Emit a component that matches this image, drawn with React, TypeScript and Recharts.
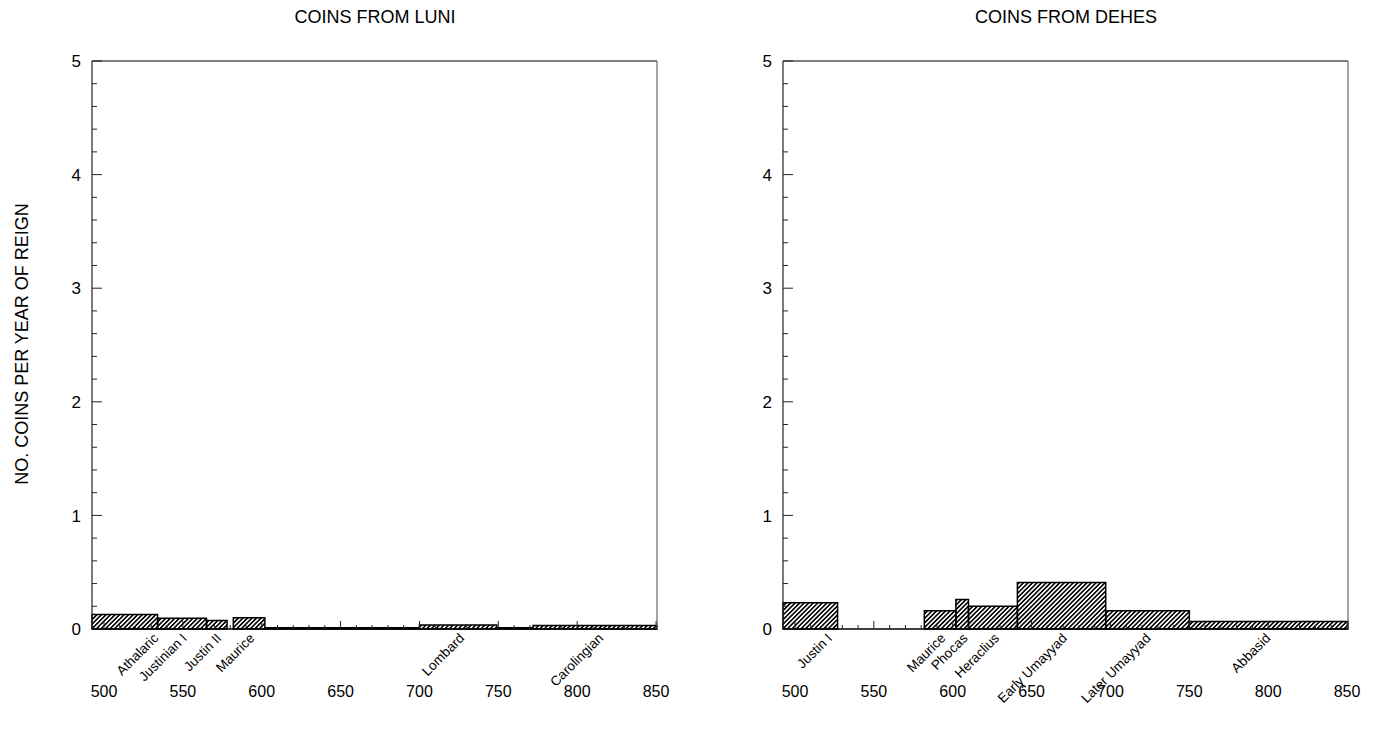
import React from "react";
import { ComposedChart, XAxis, YAxis, ReferenceArea, Line } from "recharts";

// reign blocks (start year, end year, coins per year)
const luniStart = [492.4, 534, 565, 582, 602, 700, 749, 772];
const luniEnd = [534, 565, 578, 602, 700, 749, 772, 850.6];
const luniValue = [0.127, 0.094, 0.074, 0.1, 0.01, 0.035, 0.01, 0.03];
const luniLabelYear = [535, 553, 575, 596, 729, 817];
const luniLabelName = ["Athalaric", "Justinian I", "Justin II", "Maurice", "Lombard", "Carolingian"];

const dehesStart = [492.4, 582, 602, 610, 641, 697, 750];
const dehesEnd = [527, 602, 610, 641, 697, 750, 850.6];
const dehesValue = [0.23, 0.16, 0.26, 0.2, 0.41, 0.16, 0.065];
const dehesLabelYear = [524, 596, 610, 630, 673, 726, 802];
const dehesLabelName = ["Justin I", "Maurice", "Phocas", "Heraclius", "Early Umayyad", "Later Umayyad", "Abbasid"];

const yearTicks = [500, 550, 600, 650, 700, 750, 800, 850];
const minorYearTicks = [
  500, 510, 520, 530, 540, 550, 560, 570, 580, 590, 600, 610, 620, 630, 640, 650, 660, 670,
  680, 690, 700, 710, 720, 730, 740, 750, 760, 770, 780, 790, 800, 810, 820, 830, 840, 850,
];
const valueTicks = [
  0, 0.2, 0.4, 0.6, 0.8, 1, 1.2, 1.4, 1.6, 1.8, 2, 2.2, 2.4, 2.6, 2.8, 3, 3.2, 3.4, 3.6, 3.8,
  4, 4.2, 4.4, 4.6, 4.8, 5,
];

const X_MIN = 492.4;
const X_MAX = 850.6;
const FONT = "'Liberation Sans', Arial, sans-serif";

const isMajor = (v: number) => Math.abs(v - Math.round(v)) < 1e-6;

const YTick = ({ x, y, payload }: any) => {
  const v = payload.value;
  const major = isMajor(v);
  return (
    <g>
      <line x1={x} x2={x + (major ? 10 : 5)} y1={y} y2={y} stroke="#222" strokeWidth={1} />
      {major && (
        <text x={x - 11} y={y} dy="0.36em" textAnchor="end" fontSize={17} fill="#000" fontFamily={FONT}>
          {Math.round(v)}
        </text>
      )}
    </g>
  );
};

const MinorXTick = ({ x, y, payload }: any) => {
  const big = payload.value % 50 === 0;
  return <line x1={x} x2={x} y1={y} y2={y - (big ? 8 : 4)} stroke="#222" strokeWidth={1} />;
};

const CoinChart = ({
  title,
  starts,
  ends,
  values,
  labelYears,
  labelNames,
  left,
  width,
  rightMargin,
}: {
  title: string;
  starts: number[];
  ends: number[];
  values: number[];
  labelYears: number[];
  labelNames: string[];
  left: number;
  width: number;
  rightMargin: number;
}) => {
  const rows = starts.map((s, i) => ({ year: (s + ends[i]) / 2, value: values[i] }));

  const NameTick = ({ x, y, index }: any) => {
    const ty = y + 10;
    return (
      <text
        x={x}
        y={ty}
        transform={`rotate(-45 ${x} ${ty})`}
        textAnchor="end"
        fontSize={13.5}
        fill="#000"
        fontFamily={FONT}
      >
        {labelNames[index]}
      </text>
    );
  };

  const xCommon = {
    type: "number" as const,
    dataKey: "year",
    domain: [X_MIN, X_MAX],
    allowDataOverflow: true,
  };

  return (
    <div style={{ position: "absolute", left, top: 0, width, height: 736 }}>
      <div
        style={{
          position: "absolute",
          left: 92,
          top: 7,
          width: width - 92 - rightMargin,
          textAlign: "center",
          fontFamily: FONT,
          fontSize: 18,
          color: "#000",
        }}
      >
        {title}
      </div>
      <ComposedChart
        width={width}
        height={736}
        data={rows}
        margin={{ top: 60, right: rightMargin, left: 0, bottom: 0 }}
      >
        <XAxis
          {...xCommon}
          xAxisId="top"
          orientation="top"
          height={1}
          tick={false}
          tickLine={false}
          axisLine={{ stroke: "#555", strokeWidth: 1.5 }}
        />
        <XAxis
          {...xCommon}
          xAxisId="minor"
          ticks={minorYearTicks}
          interval={0}
          mirror
          height={1}
          tickSize={0}
          tickMargin={0}
          tickLine={false}
          tick={MinorXTick}
          axisLine={{ stroke: "#000", strokeWidth: 1.5 }}
        />
        <XAxis
          {...xCommon}
          xAxisId="names"
          ticks={labelYears}
          interval={0}
          height={49}
          tickSize={0}
          tickMargin={0}
          tickLine={false}
          axisLine={false}
          tick={NameTick}
        />
        <XAxis
          {...xCommon}
          xAxisId="years"
          ticks={yearTicks}
          interval={0}
          height={58}
          tickSize={0}
          tickMargin={8}
          tickLine={false}
          axisLine={false}
          tick={{ fontSize: 16, fill: "#000", fontFamily: FONT }}
        />
        <YAxis
          yAxisId="y"
          type="number"
          domain={[0, 5]}
          allowDataOverflow
          ticks={valueTicks}
          interval={0}
          width={92}
          tickSize={0}
          tickMargin={0}
          tickLine={false}
          tick={YTick}
          axisLine={{ stroke: "#222", strokeWidth: 1.2 }}
        />
        <YAxis
          yAxisId="right"
          orientation="right"
          type="number"
          domain={[0, 5]}
          allowDataOverflow
          width={1}
          tick={false}
          tickLine={false}
          axisLine={{ stroke: "#666", strokeWidth: 1.2 }}
        />
        {starts.map((s, i) => (
          <ReferenceArea
            key={i}
            xAxisId="years"
            yAxisId="y"
            x1={s}
            x2={ends[i]}
            y1={0}
            y2={values[i]}
            ifOverflow="visible"
            fill="url(#hatch)"
            fillOpacity={1}
            stroke="#000"
            strokeWidth={1.5}
          />
        ))}
        <Line
          xAxisId="years"
          yAxisId="y"
          dataKey="value"
          stroke="none"
          dot={false}
          activeDot={false}
          isAnimationActive={false}
        />
        <Line xAxisId="top" yAxisId="right" dataKey="value" stroke="none" dot={false} activeDot={false} isAnimationActive={false} />
        <Line xAxisId="minor" yAxisId="y" dataKey="value" stroke="none" dot={false} activeDot={false} isAnimationActive={false} />
        <Line xAxisId="names" yAxisId="y" dataKey="value" stroke="none" dot={false} activeDot={false} isAnimationActive={false} />
      </ComposedChart>
    </div>
  );
};

export default function App() {
  return (
    <div style={{ position: "absolute", left: 0, top: 0, width: 1375, height: 736, background: "#fff" }}>
      <svg width={0} height={0} style={{ position: "absolute" }}>
        <defs>
          <pattern id="hatch" width={3.2} height={3.2} patternUnits="userSpaceOnUse" patternTransform="rotate(45)">
            <rect x={0} y={0} width={1.6} height={3.2} fill="#000" />
          </pattern>
        </defs>
      </svg>
      <div
        style={{
          position: "absolute",
          left: 22,
          top: 344,
          transform: "translate(-50%, -50%) rotate(-90deg)",
          whiteSpace: "nowrap",
          fontFamily: FONT,
          fontSize: 18,
          color: "#000",
        }}
      >
        NO. COINS PER YEAR OF REIGN
      </div>
      <CoinChart
        title="COINS FROM LUNI"
        starts={luniStart}
        ends={luniEnd}
        values={luniValue}
        labelYears={luniLabelYear}
        labelNames={luniLabelName}
        left={0}
        width={690}
        rightMargin={32}
      />
      <CoinChart
        title="COINS FROM DEHES"
        starts={dehesStart}
        ends={dehesEnd}
        values={dehesValue}
        labelYears={dehesLabelYear}
        labelNames={dehesLabelName}
        left={691}
        width={685}
        rightMargin={27}
      />
    </div>
  );
}
